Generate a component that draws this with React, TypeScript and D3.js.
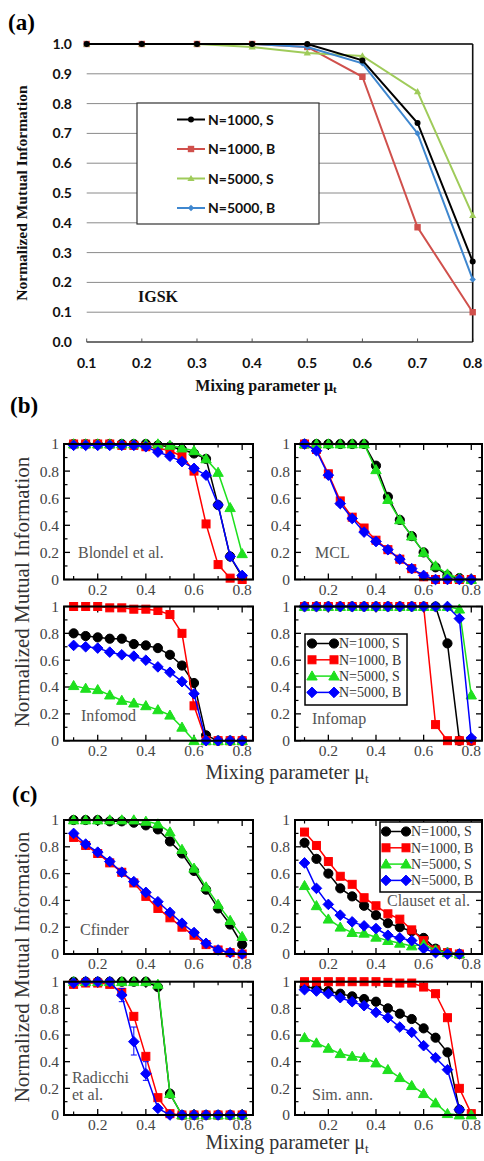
import React from 'react';
import * as d3 from 'd3';

// ---------- Panel (a) data ----------
const A_CATS = ['0.1', '0.2', '0.3', '0.4', '0.5', '0.6', '0.7', '0.8'];
const A_N1000S = [1, 1, 1, 1, 1.0, 0.945, 0.735, 0.27];
const A_N1000B = [1, 1, 1, 1, 0.99, 0.89, 0.385, 0.1];
const A_N5000S = [1, 1, 1, 0.99, 0.97, 0.96, 0.84, 0.425];
const A_N5000B = [1, 1, 1, 1, 0.99, 0.935, 0.7, 0.21];
const A_YTICKS = [0, 0.1, 0.2, 0.3, 0.4, 0.5, 0.6, 0.7, 0.8, 0.9, 1.0];

// ---------- Panels (b),(c) data ----------
const MU = [0.1, 0.15, 0.2, 0.25, 0.3, 0.35, 0.4, 0.45, 0.5, 0.55, 0.6, 0.65, 0.7, 0.75, 0.8];
const SERIES_NAMES = ['N=1000, S', 'N=1000, B', 'N=5000, S', 'N=5000, B'];
const X_MAJOR = [0.2, 0.4, 0.6, 0.8];
const X_MINOR = [0.1, 0.3, 0.5, 0.7];
const Y_MAJOR = [0, 0.2, 0.4, 0.6, 0.8, 1];
const Y_MINOR = [0.1, 0.3, 0.5, 0.7, 0.9];

const BLONDEL_1000S = [1, 1, 1, 1, 1, 1, 1, 0.99, 0.98, 0.96, 0.93, 0.89, 0.55, 0.17, 0.02];
const BLONDEL_1000B = [1, 1, 1, 1, 0.99, 0.99, 0.98, 0.97, 0.95, 0.91, 0.8, 0.41, 0.11, 0.01, 0];
const BLONDEL_5000S = [1, 1, 1, 1, 1, 1, 1, 1, 0.99, 0.97, 0.95, 0.89, 0.79, 0.53, 0.19];
const BLONDEL_5000B = [0.99, 0.99, 0.99, 0.99, 0.99, 0.99, 0.98, 0.94, 0.91, 0.87, 0.82, 0.77, 0.55, 0.17, 0.03];

const MCL_1000S = [1, 1, 1, 1, 1, 1, 0.84, 0.61, 0.44, 0.32, 0.2, 0.09, 0.03, 0.01, 0];
const MCL_1000B = [1, 0.96, 0.78, 0.58, 0.46, 0.38, 0.29, 0.22, 0.15, 0.08, 0.02, 0, 0, 0, 0];
const MCL_5000S = [1, 1, 1, 1, 1, 1, 0.81, 0.59, 0.44, 0.32, 0.2, 0.1, 0.04, 0.01, 0];
const MCL_5000B = [1, 0.95, 0.77, 0.56, 0.45, 0.35, 0.28, 0.22, 0.15, 0.08, 0.03, 0, 0, 0, 0];

const INFOMOD_1000S = [0.8, 0.78, 0.77, 0.76, 0.76, 0.72, 0.71, 0.69, 0.64, 0.56, 0.43, 0.04, 0, 0, 0];
const INFOMOD_1000B = [1, 1, 1, 0.99, 0.99, 0.98, 0.98, 0.97, 0.94, 0.8, 0.26, 0, 0, 0, 0];
const INFOMOD_5000S = [0.41, 0.39, 0.38, 0.34, 0.3, 0.28, 0.26, 0.23, 0.19, 0.1, 0, 0, 0, 0, 0];
const INFOMOD_5000B = [0.71, 0.7, 0.69, 0.66, 0.64, 0.63, 0.6, 0.55, 0.51, 0.44, 0.35, 0, 0, 0, 0];

const INFOMAP_1000S = [1, 1, 1, 1, 1, 1, 1, 1, 1, 1, 1, 1, 0.725, 0, 0];
const INFOMAP_1000B = [1, 1, 1, 1, 1, 1, 1, 1, 1, 1, 1, 0.12, 0, 0, 0];
const INFOMAP_5000S = [1, 1, 1, 1, 1, 1, 1, 1, 1, 1, 1, 1, 1, 0.98, 0.34];
const INFOMAP_5000B = [1, 1, 1, 1, 1, 1, 1, 1, 1, 1, 1, 1, 1, 0.91, 0.02];

const CFINDER_1000S = [1, 1, 1, 0.99, 0.99, 0.98, 0.96, 0.93, 0.84, 0.75, 0.62, 0.48, 0.34, 0.22, 0.07];
const CFINDER_1000B = [0.87, 0.81, 0.75, 0.68, 0.61, 0.53, 0.43, 0.34, 0.27, 0.2, 0.14, 0.07, 0.03, 0.01, 0];
const CFINDER_5000S = [1, 1, 1, 1, 1, 1, 0.99, 0.97, 0.91, 0.78, 0.64, 0.5, 0.37, 0.25, 0.13];
const CFINDER_5000B = [0.9, 0.82, 0.76, 0.69, 0.61, 0.54, 0.46, 0.39, 0.31, 0.23, 0.16, 0.08, 0.03, 0.01, 0];

const CLAUSET_1000S = [0.83, 0.71, 0.6, 0.49, 0.43, 0.36, 0.29, 0.23, 0.2, 0.17, 0.12, 0.04, 0.01, 0, null];
const CLAUSET_1000B = [0.91, 0.81, 0.69, 0.58, 0.52, 0.42, 0.36, 0.3, 0.26, 0.18, 0.1, 0.03, 0.01, 0, null];
const CLAUSET_5000S = [0.51, 0.36, 0.26, 0.2, 0.16, 0.155, 0.125, 0.1, 0.08, 0.06, 0.07, 0.03, 0.01, 0, null];
const CLAUSET_5000B = [0.68, 0.49, 0.37, 0.29, 0.24, 0.21, 0.19, 0.14, 0.12, 0.1, 0.04, 0.01, 0, 0, null];

const RADICCHI_1000S = [1, 1, 1, 1, 1, 1, 1, 0.96, 0.16, 0, 0, 0, 0, 0, 0];
const RADICCHI_1000B = [0.98, 0.99, 0.99, 0.98, 0.92, 0.74, 0.44, 0.13, 0.01, 0, 0, 0, 0, 0, 0];
const RADICCHI_5000S = [1, 1, 1, 1, 1, 1, 1, 0.98, 0.16, 0, 0, 0, 0, 0, 0];
const RADICCHI_5000B = [0.99, 1, 1, 1, 0.9, 0.55, 0.31, 0.05, 0, 0, 0, 0, 0, 0, 0];
const RADICCHI_ERR_X = [0.3, 0.35, 0.4];
const RADICCHI_ERR_LO = [0.85, 0.45, 0.26];
const RADICCHI_ERR_HI = [0.95, 0.66, 0.4];

const SIMANN_1000S = [0.96, 0.95, 0.93, 0.91, 0.89, 0.87, 0.85, 0.8, 0.76, 0.72, 0.65, 0.58, 0.47, 0.04, null];
const SIMANN_1000B = [1, 1, 1, 1, 1, 1, 1, 0.995, 0.99, 0.99, 0.96, 0.91, 0.73, 0.2, 0.01];
const SIMANN_5000S = [0.58, 0.54, 0.5, 0.46, 0.44, 0.43, 0.39, 0.34, 0.28, 0.22, 0.16, 0.09, 0.01, 0, 0];
const SIMANN_5000B = [0.94, 0.93, 0.91, 0.88, 0.85, 0.82, 0.77, 0.73, 0.66, 0.62, 0.52, 0.43, 0.34, 0.04, null];

const G_COLORS = ['#000000', '#ff0000', '#1ee01e', '#0000ff'];
const G_SHAPES = ['circle', 'square', 'triangle', 'diamond'];
const A_COLORS = ['#000000', '#d0504c', '#9fcb5a', '#3f87cf'];

const SERIF = '"Liberation Serif", "DejaVu Serif", serif';
const SANS = 'Lato, "Open Sans", "Liberation Sans", sans-serif';

function Marker({ shape, x, y, color, s = 1 }: any) {
  if (shape === 'circle') return <circle cx={x} cy={y} r={4.6 * s} fill={color} stroke={color} strokeWidth={1} />;
  if (shape === 'square') { const h = 4 * s; return <rect x={x - h} y={y - h} width={2 * h} height={2 * h} fill={color} stroke={color} strokeWidth={1} />; }
  if (shape === 'triangle') { const h = 5.2 * s; return <path d={`M${x},${y - h}L${x + h},${y + h * 0.75}L${x - h},${y + h * 0.75}Z`} fill={color} stroke={color} strokeWidth={1} />; }
  const h = 5.3 * s;
  return <path d={`M${x},${y - h}L${x + h},${y}L${x},${y + h}L${x - h},${y}Z`} fill={color} stroke={color} strokeWidth={1} />;
}

function GracePanel({ left, right, top, bottom, series, labels, legend, errors }: any) {
  const x = d3.scaleLinear().domain([0.06, 0.845]).range([left, right]);
  const y = d3.scaleLinear().domain([0, 1]).range([bottom, top]);
  const line = d3.line<any>().defined((d: any) => d[1] !== null).x((d: any) => x(d[0])).y((d: any) => y(d[1]));
  const major = 6, minor = 3.5;
  return (
    <g>
      {Y_MAJOR.map((v) => (
        <g key={'ym' + v}>
          <line x1={left} x2={left + major} y1={y(v)} y2={y(v)} stroke="#000" strokeWidth={1.3} />
          <line x1={right} x2={right - major} y1={y(v)} y2={y(v)} stroke="#000" strokeWidth={1.3} />
          <text x={left - 5} y={y(v)} dy="0.35em" textAnchor="end" fontFamily={SERIF} fontSize={15.5} fill="#444">{v === 0 ? '0' : v === 1 ? '1' : v.toFixed(1)}</text>
        </g>
      ))}
      {Y_MINOR.map((v) => (
        <g key={'yn' + v}>
          <line x1={left} x2={left + minor} y1={y(v)} y2={y(v)} stroke="#000" strokeWidth={1.2} />
          <line x1={right} x2={right - minor} y1={y(v)} y2={y(v)} stroke="#000" strokeWidth={1.2} />
        </g>
      ))}
      {X_MAJOR.map((v) => (
        <g key={'xm' + v}>
          <line x1={x(v)} x2={x(v)} y1={bottom} y2={bottom - major} stroke="#000" strokeWidth={1.3} />
          <line x1={x(v)} x2={x(v)} y1={top} y2={top + major} stroke="#000" strokeWidth={1.3} />
          <text x={x(v)} y={bottom + 15} textAnchor="middle" fontFamily={SERIF} fontSize={15.5} fill="#444">{v.toFixed(1)}</text>
        </g>
      ))}
      {X_MINOR.map((v) => (
        <g key={'xn' + v}>
          <line x1={x(v)} x2={x(v)} y1={bottom} y2={bottom - minor} stroke="#000" strokeWidth={1.2} />
          <line x1={x(v)} x2={x(v)} y1={top} y2={top + minor} stroke="#000" strokeWidth={1.2} />
        </g>
      ))}
      {labels.map((l: any, i: number) => (
        <text key={'l' + i} x={l.x} y={l.y} fontFamily={SERIF} fontSize={16} fill="#555">{l.text}</text>
      ))}
      <g>
        {series.map((vals: any[], si: number) => {
          const pts = MU.map((m, i) => [m, vals[i]]);
          return (
            <g key={'s' + si}>
              <path d={line(pts) || ''} fill="none" stroke={G_COLORS[si]} strokeWidth={1.5} />
              {si === 3 && errors ? errors.x.map((ex: number, ei: number) => (
                <g key={'e' + ei} stroke={G_COLORS[3]} strokeWidth={1}>
                  <line x1={x(ex)} x2={x(ex)} y1={y(errors.lo[ei])} y2={y(errors.hi[ei])} />
                  <line x1={x(ex) - 3} x2={x(ex) + 3} y1={y(errors.lo[ei])} y2={y(errors.lo[ei])} />
                  <line x1={x(ex) - 3} x2={x(ex) + 3} y1={y(errors.hi[ei])} y2={y(errors.hi[ei])} />
                </g>
              )) : null}
              {pts.filter((p) => p[1] !== null).map((p, pi) => (
                <Marker key={pi} shape={G_SHAPES[si]} x={x(p[0])} y={y(p[1])} color={G_COLORS[si]} />
              ))}
            </g>
          );
        })}
      </g>
      {legend ? (
        <g>
          <rect x={legend.x0} y={legend.y0} width={legend.x1 - legend.x0} height={legend.y1 - legend.y0} fill="#fff" stroke="#000" strokeWidth={1.5} />
          {SERIES_NAMES.map((n, i) => {
            const ly = legend.y0 + 9.5 + i * 16.3;
            return (
              <g key={'lg' + i}>
                <line x1={legend.mx0} x2={legend.mx1} y1={ly} y2={ly} stroke={G_COLORS[i]} strokeWidth={1.5} />
                <Marker shape={G_SHAPES[i]} x={legend.mx0} y={ly} color={G_COLORS[i]} />
                <Marker shape={G_SHAPES[i]} x={legend.mx1} y={ly} color={G_COLORS[i]} />
                <text x={legend.mx1 + 5} y={ly} dy="0.35em" fontFamily={SERIF} fontSize={14} fill="#333">{n}</text>
              </g>
            );
          })}
        </g>
      ) : null}
      <rect x={left} y={top} width={right - left} height={bottom - top} fill="none" stroke="#000" strokeWidth={2} />
    </g>
  );
}

function PanelA() {
  const x = d3.scalePoint<string>().domain(A_CATS).range([86.7, 472.7]);
  const y = d3.scaleLinear().domain([0, 1]).range([342, 44]);
  const line = d3.line<any>().x((d: any) => x(d[0]) as number).y((d: any) => y(d[1]));
  const all = [A_N1000S, A_N1000B, A_N5000S, A_N5000B];
  const order = [1, 2, 3, 0];
  const mk = (si: number, cx: number, cy: number, k: any) => {
    const c = A_COLORS[si];
    if (si === 0) return <circle key={k} cx={cx} cy={cy} r={3} fill={c} />;
    if (si === 1) return <rect key={k} x={cx - 3.2} y={cy - 3.2} width={6.4} height={6.4} fill={c} />;
    if (si === 2) return <path key={k} d={`M${cx},${cy - 3.6}L${cx + 3.6},${cy + 2.6}L${cx - 3.6},${cy + 2.6}Z`} fill={c} />;
    return <path key={k} d={`M${cx},${cy - 3.2}L${cx + 3.2},${cy}L${cx},${cy + 3.2}L${cx - 3.2},${cy}Z`} fill={c} />;
  };
  return (
    <g>
      <text x={8} y={30} fontFamily={SERIF} fontWeight="bold" fontSize={23}>(a)</text>
      {A_YTICKS.map((v) => (
        <g key={v}>
          <line x1={86.7} x2={472.7} y1={y(v)} y2={y(v)} stroke="#8a8a8a" strokeWidth={1} />
          <text x={72} y={y(v)} dy="0.36em" textAnchor="end" fontFamily={SANS} fontWeight="bold" fontSize={14} fill="#111">{v.toFixed(1)}</text>
        </g>
      ))}
      <line x1={86.7} x2={472.7} y1={y(0)} y2={y(0)} stroke="#555" strokeWidth={1.3} />
      {A_CATS.map((c) => (
        <g key={c}>
          <line x1={x(c)} x2={x(c)} y1={y(0)} y2={y(0) - 3.5} stroke="#555" strokeWidth={1} />
          <text x={x(c)} y={368} textAnchor="middle" fontFamily={SANS} fontWeight="bold" fontSize={14} fill="#111">{c}</text>
        </g>
      ))}
      <line x1={86.7} x2={472.7} y1={y(1)} y2={y(1)} stroke="#111" strokeWidth={1.6} />
      <line x1={472.7} x2={472.7} y1={y(1)} y2={y(0)} stroke="#111" strokeWidth={1.6} />
      {order.map((si) => (
        <g key={'as' + si}>
          <path d={line(A_CATS.map((c, i) => [c, all[si][i]])) || ''} fill="none" stroke={A_COLORS[si]} strokeWidth={2} />
          {A_CATS.map((c, i) => mk(si, x(c) as number, y(all[si][i]), i))}
        </g>
      ))}
      <rect x={137} y={103} width={182} height={121} fill="#fff" stroke="#333" strokeWidth={1.2} />
      {SERIES_NAMES.map((n, i) => {
        const ly = 119.5 + i * 29.5;
        return (
          <g key={'al' + i}>
            <line x1={177} x2={205} y1={ly} y2={ly} stroke={A_COLORS[i]} strokeWidth={2} />
            {mk(i, 191, ly, 'm')}
            <text x={208} y={ly} dy="0.36em" fontFamily={SANS} fontWeight="bold" fontSize={14} fill="#111">{n}</text>
          </g>
        );
      })}
      <text x={138} y={302} fontFamily={SERIF} fontWeight="bold" fontSize={16} fill="#111">IGSK</text>
      <text transform="translate(27,193) rotate(-90)" textAnchor="middle" fontFamily={SERIF} fontWeight="bold" fontSize={15.5} fill="#111">Normalized Mutual Information</text>
      <text x={266} y={391} textAnchor="middle" fontFamily={SERIF} fontWeight="bold" fontSize={16} fill="#111">
        Mixing parameter μ<tspan fontSize={11} dy={2}>t</tspan>
      </text>
    </g>
  );
}

function Titles({ yCenter, titleY }: any) {
  return (
    <g>
      <text transform={`translate(29,${yCenter}) rotate(-90)`} textAnchor="middle" fontFamily={SERIF} fontSize={21} fill="#333">Normalized Mutual Information</text>
      <text x={287} y={titleY} textAnchor="middle" fontFamily={SERIF} fontSize={20} fill="#333">
        Mixing parameter μ<tspan fontSize={13} dy={4}>t</tspan>
      </text>
    </g>
  );
}

export default function App() {
  const L = { left: 64, right: 253 };
  const R = { left: 295, right: 482 };
  return (
    <svg width={484} height={1161} style={{ position: 'absolute', left: 0, top: 0, background: '#fff' }}>
      <rect x={0} y={0} width={484} height={1161} fill="#fff" />
      <PanelA />
      <text x={10} y={413} fontFamily={SERIF} fontWeight="bold" fontSize={23}>(b)</text>
      <GracePanel {...L} top={444} bottom={579.5}
        series={[BLONDEL_1000S, BLONDEL_1000B, BLONDEL_5000S, BLONDEL_5000B]}
        labels={[{ x: 78, y: 558, text: 'Blondel et al.' }]} />
      <GracePanel {...R} top={444} bottom={579.5}
        series={[MCL_1000S, MCL_1000B, MCL_5000S, MCL_5000B]}
        labels={[{ x: 315, y: 558, text: 'MCL' }]} />
      <GracePanel {...L} top={606.5} bottom={740.7}
        series={[INFOMOD_1000S, INFOMOD_1000B, INFOMOD_5000S, INFOMOD_5000B]}
        labels={[{ x: 81, y: 721, text: 'Infomod' }]} />
      <GracePanel {...R} top={606.5} bottom={740.7}
        series={[INFOMAP_1000S, INFOMAP_1000B, INFOMAP_5000S, INFOMAP_5000B]}
        labels={[{ x: 312, y: 724, text: 'Infomap' }]}
        legend={{ x0: 305, x1: 407, y0: 634, y1: 705, mx0: 312, mx1: 334 }} />
      <Titles yCenter={592} titleY={779} />
      <text x={12} y={802} fontFamily={SERIF} fontWeight="bold" fontSize={23}>(c)</text>
      <GracePanel {...L} top={820} bottom={954}
        series={[CFINDER_1000S, CFINDER_1000B, CFINDER_5000S, CFINDER_5000B]}
        labels={[{ x: 80, y: 935, text: 'Cfinder' }]} />
      <GracePanel {...R} top={820} bottom={954}
        series={[CLAUSET_1000S, CLAUSET_1000B, CLAUSET_5000S, CLAUSET_5000B]}
        labels={[{ x: 387, y: 906, text: 'Clauset et al.' }]}
        legend={{ x0: 380, x1: 482, y0: 822, y1: 892, mx0: 386, mx1: 406 }} />
      <GracePanel {...L} top={981.7} bottom={1115}
        series={[RADICCHI_1000S, RADICCHI_1000B, RADICCHI_5000S, RADICCHI_5000B]}
        labels={[{ x: 72, y: 1083, text: 'Radicchi' }, { x: 72, y: 1100, text: 'et al.' }]}
        errors={{ x: RADICCHI_ERR_X, lo: RADICCHI_ERR_LO, hi: RADICCHI_ERR_HI }} />
      <GracePanel {...R} top={981.7} bottom={1115}
        series={[SIMANN_1000S, SIMANN_1000B, SIMANN_5000S, SIMANN_5000B]}
        labels={[{ x: 312, y: 1100, text: 'Sim. ann.' }]} />
      <Titles yCenter={967} titleY={1149} />
    </svg>
  );
}
